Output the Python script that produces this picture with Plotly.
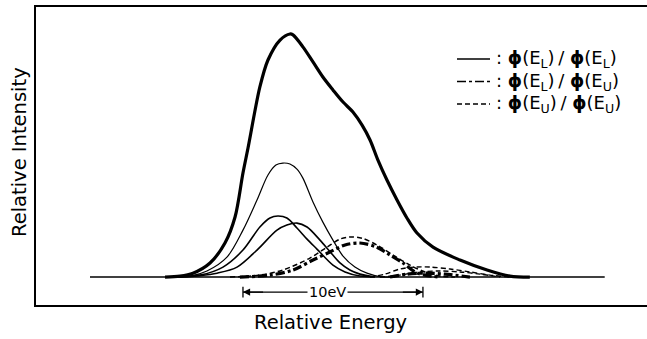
import plotly.graph_objects as go

# Energy axis in eV (10 eV scale bar starts at 0), intensity normalised to the summed peak = 100

# Summed spectrum (thick solid)
total_e = [-4.33, -3.5, -2.78, -1.83, -1.0, -0.44, 0.0, 0.28, 0.94, 1.39, 2.06, 2.61, 2.78,
           3.33, 3.89, 4.44, 5.0, 5.56, 6.11, 6.61, 7.06, 7.5, 8.0, 8.56, 9.11, 9.67,
           10.56, 12.06, 13.56, 14.83, 15.94]
total_i = [0.0, 0.4, 1.6, 5.8, 14.0, 24.7, 42.8, 53.1, 78.2, 89.3, 97.5, 100.0, 99.6,
           94.7, 88.5, 82.3, 77.0, 72.0, 67.9, 62.6, 56.4, 48.1, 39.9, 31.7, 24.3, 18.1,
           12.3, 7.0, 2.9, 0.4, 0.0]

# phi(E_L)/phi(E_L) components (thin solid)
ll1_e = [-4.06, -2.94, -2.0, -0.89, 0.0, 0.78, 1.39, 1.83, 2.22, 2.61, 3.0, 3.33, 3.89,
         4.44, 5.0, 5.56, 6.22, 6.89, 7.61, 8.44]
ll1_i = [0.0, 0.4, 2.5, 8.2, 19.3, 31.7, 42.0, 46.1, 46.9, 46.5, 44.4, 40.7, 30.9,
         22.6, 15.2, 8.6, 4.1, 1.6, 0.2, 0.0]

ll2_e = [-4.06, -2.39, -1.11, 0.0, 0.94, 1.5, 1.94, 2.44, 3.0, 3.56, 4.11, 5.0, 5.67, 6.5, 7.33]
ll2_i = [0.0, 0.8, 4.1, 11.1, 20.6, 24.3, 25.1, 24.3, 20.2, 15.6, 11.5, 4.9, 2.1, 0.4, 0.0]

ll3_e = [-3.5, -2.39, -1.44, -0.33, 0.78, 1.89, 2.44, 3.0, 3.56, 4.28, 4.83, 5.39, 5.94, 6.5, 7.33]
ll3_i = [0.0, 0.6, 1.6, 4.1, 11.1, 19.3, 21.4, 22.2, 20.6, 15.2, 10.5, 5.8, 2.9, 1.2, 0.0]

# phi(E_L)/phi(E_U) components (dash-dot)
lu1_e = [-0.17, 1.5, 2.78, 3.89, 4.83, 5.67, 6.5, 7.44, 8.17, 8.89, 9.56, 10.11, 10.94]
lu1_i = [0.0, 0.8, 2.9, 7.0, 10.3, 13.2, 14.0, 12.3, 9.1, 5.8, 2.1, 0.8, 0.0]

lu2_e = [8.17, 9.11, 10.11, 11.22, 12.61]
lu2_i = [0.0, 1.2, 1.6, 1.2, 0.0]

# phi(E_U)/phi(E_U) components (dashed)
uu1_e = [-0.72, 0.94, 2.22, 3.72, 4.67, 5.39, 5.94, 6.61, 7.44, 8.44, 9.28, 10.11, 10.94, 11.78]
uu1_i = [0.0, 0.8, 2.9, 7.8, 12.3, 15.6, 16.5, 16.0, 13.2, 8.6, 4.9, 2.1, 0.4, 0.0]

uu2_e = [7.06, 7.89, 8.72, 9.56, 10.39, 11.5, 12.61, 13.72, 14.83]
uu2_i = [0.0, 1.2, 3.3, 4.1, 4.1, 3.3, 2.1, 0.8, 0.0]

uu3_e = [7.61, 8.72, 9.83, 10.94, 12.06, 13.17, 14.28]
uu3_i = [0.0, 0.8, 2.1, 2.5, 2.1, 1.2, 0.0]

# Horizontal baseline extent and scale bar
baseline_e = [-8.5, 20.1]
scale_e = [0.0, 10.0]
scale_label = "10eV"

PHI = "<b>ϕ</b>"
legend_labels = [
    f": {PHI}(E<sub>L</sub>)\u2009/ {PHI}(E<sub>L</sub>)",
    f": {PHI}(E<sub>L</sub>)\u2009/ {PHI}(E<sub>U</sub>)",
    f": {PHI}(E<sub>U</sub>)\u2009/ {PHI}(E<sub>U</sub>)",
]

FONT = "DejaVu Sans"
DASH = "5px,3px"
DASHDOT = "9px,3px,3px,3px"

# plot-area geometry in pixels, used to place the key and titles
W, H = 647, 339
ML, MR, MT, MB = 36, 0, 7, 34
PW, PH = W - ML - MR, H - MT - MB


def px_x(p):
    return (p - ML) / PW


def px_y(p):
    return (H - MB - p) / PH


fig = go.Figure()


def curve(x, y, width, dash="solid"):
    fig.add_trace(go.Scatter(
        x=x, y=y, mode="lines", showlegend=False, hoverinfo="skip",
        line=dict(color="black", width=width, dash=dash, shape="spline", smoothing=0.9),
    ))


# baseline
fig.add_trace(go.Scatter(x=baseline_e, y=[0, 0], mode="lines", showlegend=False,
                         line=dict(color="black", width=1.5)))

curve(uu2_e, uu2_i, 1.4, DASH)
curve(uu3_e, uu3_i, 1.4, DASH)
curve(lu2_e, lu2_i, 3.2, DASHDOT)
curve(uu1_e, uu1_i, 1.5, DASH)
curve(lu1_e, lu1_i, 3.2, DASHDOT)
curve(ll1_e, ll1_i, 1.2)
curve(ll2_e, ll2_i, 1.6)
curve(ll3_e, ll3_i, 1.6)
curve(total_e, total_i, 3.2)

# key: line sample + label per component type
for row, (label, dash) in enumerate(zip(legend_labels, ["solid", DASHDOT, DASH])):
    yy = px_y(59 + 22.5 * row)
    fig.add_shape(type="line", xref="paper", yref="paper",
                  x0=px_x(457), x1=px_x(490), y0=yy, y1=yy,
                  line=dict(color="black", width=1.6, dash=dash))
    fig.add_annotation(x=px_x(494), y=yy, xref="paper", yref="paper", text=label,
                       xanchor="left", yanchor="middle", showarrow=False,
                       font=dict(family=FONT, size=18, color="black"))

# 10 eV scale bar
bar_y = -6.2
fig.add_trace(go.Scatter(x=scale_e, y=[bar_y, bar_y], mode="lines", showlegend=False,
                         line=dict(color="black", width=1.2)))
for xe in scale_e:
    fig.add_trace(go.Scatter(x=[xe, xe], y=[bar_y - 2.2, bar_y + 2.2], mode="lines",
                             showlegend=False, line=dict(color="black", width=1.3)))
for xe, xt in [(scale_e[0], scale_e[0] + 1.2), (scale_e[1], scale_e[1] - 1.2)]:
    fig.add_annotation(x=xe, y=bar_y, ax=xt, ay=bar_y, axref="x", ayref="y",
                       xref="x", yref="y", text="", showarrow=True,
                       arrowhead=2, arrowsize=1.1, arrowwidth=1.3, arrowcolor="black")
fig.add_annotation(x=sum(scale_e) / 2 - 0.33, y=bar_y, text=scale_label, showarrow=False,
                   bgcolor="white", borderpad=1,
                   font=dict(family=FONT, size=14.5, color="black"))

# axis titles
fig.add_annotation(x=px_x(19), y=px_y(152), xref="paper", yref="paper",
                   xanchor="center", yanchor="middle",
                   text="Relative Intensity", textangle=-90, showarrow=False,
                   font=dict(family=FONT, size=19.5, color="black"))
fig.add_annotation(x=px_x(330), y=px_y(322), xref="paper", yref="paper",
                   xanchor="center", yanchor="middle",
                   text="Relative Energy", showarrow=False,
                   font=dict(family=FONT, size=19.5, color="black"))

fig.update_layout(
    width=W, height=H,
    margin=dict(l=ML, r=MR, t=MT, b=MB),
    paper_bgcolor="white", plot_bgcolor="white",
    showlegend=False,
    xaxis=dict(range=[-11.5, 22.45], showgrid=False, zeroline=False, showticklabels=False,
               ticks="", showline=True, linecolor="black", linewidth=1.5, mirror=True),
    yaxis=dict(range=[-11.5, 111.1], showgrid=False, zeroline=False, showticklabels=False,
               ticks="", showline=True, linecolor="black", linewidth=1.5, mirror=False),
)

fig.write_html("out.html")
